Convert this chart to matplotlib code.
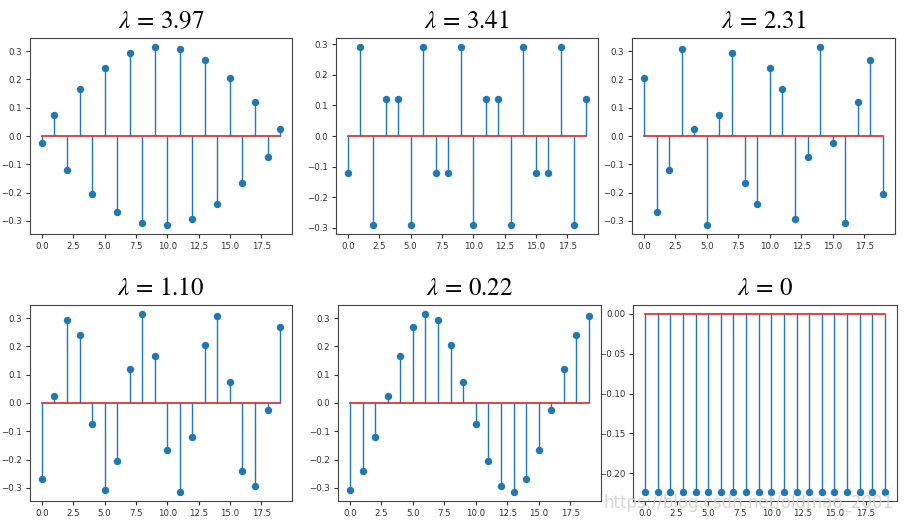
import numpy as np
import matplotlib
matplotlib.use("Agg")
import matplotlib.pyplot as plt

plt.rcParams["mathtext.fontset"] = "stix"

# eigenvalues shown in the titles
lambdas = ["3.97", "3.41", "2.31", "1.10", "0.22", "0"]

# eigenvector components (20 nodes each)
v_397 = [-0.025, 0.074, -0.121, 0.165, -0.205, 0.240, -0.269, 0.292, -0.307, 0.315,
         -0.315, 0.307, -0.292, 0.269, -0.240, 0.205, -0.165, 0.121, -0.074, 0.025]
v_341 = [-0.121, 0.292, -0.292, 0.121, 0.121, -0.292, 0.292, -0.121, -0.121, 0.292,
         -0.292, 0.121, 0.121, -0.292, 0.292, -0.121, -0.121, 0.292, -0.292, 0.121]
v_231 = [0.205, -0.269, -0.121, 0.307, 0.025, -0.315, 0.074, 0.292, -0.165, -0.240,
         0.240, 0.165, -0.292, -0.074, 0.315, -0.025, -0.307, 0.121, 0.269, -0.205]
v_110 = [-0.269, 0.025, 0.292, 0.240, -0.074, -0.307, -0.205, 0.121, 0.315, 0.165,
         -0.165, -0.315, -0.121, 0.205, 0.307, 0.074, -0.240, -0.292, -0.025, 0.269]
v_022 = [-0.307, -0.240, -0.121, 0.025, 0.165, 0.269, 0.315, 0.292, 0.205, 0.074,
         -0.074, -0.205, -0.292, -0.315, -0.269, -0.165, -0.025, 0.121, 0.240, 0.307]
v_000 = [-0.2236] * 20

vectors = [v_397, v_341, v_231, v_110, v_022, v_000]

W, H = 915, 523
# axes boxes in pixels: left, top, right, bottom
boxes = [(30, 38, 292, 234), (336, 38, 598, 234), (632, 38, 895, 234),
         (30, 305, 292, 501), (338, 305, 601, 501), (633, 305, 897, 501)]

fig = plt.figure(figsize=(W / 100, H / 100), dpi=100)

for lam, vec, (l, t, r, b) in zip(lambdas, vectors, boxes):
    ax = fig.add_axes([l / W, 1 - b / H, (r - l) / W, (b - t) / H])
    markers, stems, base = ax.stem(np.arange(len(vec)), vec, basefmt="C3-")
    markers.set_markersize(4.3)
    stems.set_linewidth(1.0)
    base.set_linewidth(1.2)
    ax.set_title(rf"$\lambda\,=\,{lam}$", fontsize=18, pad=7)
    ax.tick_params(labelsize=6.2, length=3, pad=2.5, colors="#333333")
    for s in ax.spines.values():
        s.set_color("#444444")
    if lam != "0":
        ax.set_yticks([-0.3, -0.2, -0.1, 0.0, 0.1, 0.2, 0.3])
    ax.set_xticks([0, 2.5, 5, 7.5, 10, 12.5, 15, 17.5])

fig.text(0.977, 1 - 503 / H, "https://blog.csdn.net/oldmao_2001", ha="right", va="center",
         fontsize=12, color="#d0d0d0", alpha=0.85)

fig.savefig("out.png", dpi=100)
